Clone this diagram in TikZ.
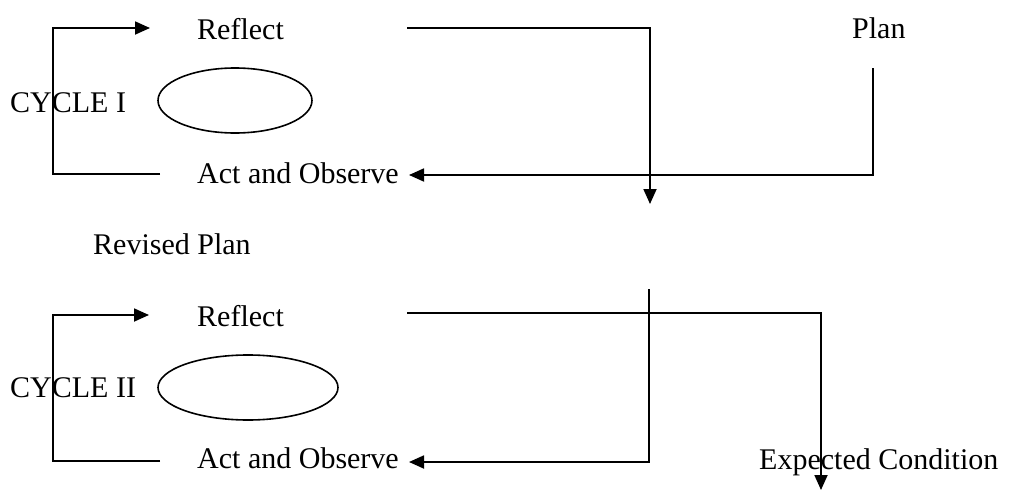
\documentclass[tikz,border=0pt]{standalone}
\usepackage{fontspec}
\setmainfont{Liberation Serif}
\usetikzlibrary{arrows.meta,shapes.geometric}
\begin{document}
\begin{tikzpicture}[x=1pt,y=-1pt,
  lbl/.style={anchor=base west,inner sep=0pt,font=\fontsize{30}{36}\selectfont},
  ln/.style={line width=1.8pt},
  arr/.style={ln,-{Triangle[length=15pt,width=13pt]}},
  oval/.style={draw,ellipse,line width=1.6pt,inner sep=0pt}]
\useasboundingbox (0,0) rectangle (1010,490);
% ---- Cycle I ----
\node[lbl] (refl1) at (197,39) {Reflect};
\node[lbl] (act1) at (197,183) {Act and Observe};
\node[lbl] (cyc1) at (10,112) {CYCLE I};
\node[lbl] (plan) at (852,38) {Plan};
\node[oval,minimum width=154pt,minimum height=65pt] (e1) at (235,100.5) {};
\coordinate (l1s) at (160,174);
\coordinate (l1t) at (53,28);
\coordinate (r1in) at (150,28);
\coordinate (r1out) at (407,28);
\coordinate (d1end) at (650,204);
\coordinate (pl) at (873,68);
\coordinate (a1in) at (409,175);
\draw[arr] (l1s) -| (l1t) -- (r1in);
\draw[arr] (r1out) -| (d1end);
\draw[arr] (pl) |- (a1in);
% ---- between ----
\node[lbl] (rp) at (93,254) {Revised Plan};
% ---- Cycle II ----
\node[lbl] (refl2) at (197,326) {Reflect};
\node[lbl] (act2) at (197,468) {Act and Observe};
\node[lbl] (cyc2) at (10,397) {CYCLE II};
\node[lbl] (exp) at (759,469) {Expected Condition};
\node[oval,minimum width=180pt,minimum height=65pt] (e2) at (248,387.5) {};
\coordinate (l2s) at (160,461);
\coordinate (l2t) at (53,315);
\coordinate (r2in) at (149,315);
\coordinate (r2out) at (407,313);
\coordinate (d2end) at (821,490);
\coordinate (rpl) at (649,289);
\coordinate (a2in) at (409,462);
\draw[arr] (l2s) -| (l2t) -- (r2in);
\draw[arr] (r2out) -| (d2end);
\draw[arr] (rpl) |- (a2in);
\end{tikzpicture}
\end{document}
